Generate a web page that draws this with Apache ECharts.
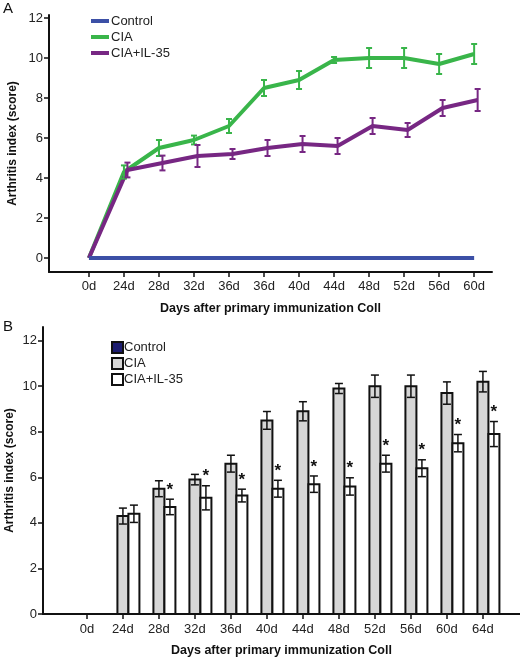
<!DOCTYPE html>
<html><head><meta charset="utf-8">
<script src="https://cdn.jsdelivr.net/npm/echarts@6/dist/echarts.min.js"></script>
<style>html,body{margin:0;padding:0;background:#fff}#c{width:520px;height:658px}</style>
</head><body><div id="c"></div>
<script>
// ---- Panel A data ----
const topCategories = ['0d','24d','28d','32d','36d','36d','40d','44d','48d','52d','56d','60d'];
const topControl = [0,0,0,0,0,0,0,0,0,0,0,0];
const topCIA = [0,4.3,5.5,5.9,6.6,8.5,8.9,9.9,10.0,10.0,9.7,10.2];
const topCIAErr = [0,0.33,0.4,0.22,0.35,0.4,0.45,0.15,0.5,0.5,0.5,0.5];
const topIL35 = [0,4.4,4.75,5.1,5.2,5.5,5.7,5.6,6.6,6.4,7.5,7.9];
const topIL35Err = [0,0.37,0.37,0.55,0.25,0.4,0.4,0.4,0.4,0.35,0.4,0.55];
const yTicks = [0,2,4,6,8,10,12];

// ---- Panel B data ----
const barCategories = ['0d','24d','28d','32d','36d','40d','44d','48d','52d','56d','60d','64d'];
const barControl = [0,0,0,0,0,0,0,0,0,0,0,0];
const barCIA = [0,4.3,5.5,5.9,6.6,8.5,8.9,9.9,10.0,10.0,9.7,10.2];
const barCIAErr = [0,0.35,0.35,0.23,0.37,0.39,0.42,0.22,0.49,0.49,0.49,0.45];
const barIL35 = [0,4.4,4.7,5.1,5.2,5.5,5.7,5.6,6.6,6.4,7.5,7.9];
const barIL35Err = [0,0.38,0.34,0.53,0.28,0.37,0.36,0.38,0.37,0.37,0.38,0.55];
const barSig = [0,0,1,1,1,1,1,1,1,1,1,1];

const FONT = '"Liberation Sans", Arial, sans-serif';
const C_BLUE = '#3c50a6', C_GREEN = '#39b54a', C_PURPLE = '#772783';
const C_NAVY = '#1d1d70', C_GRAY = '#d6d6d6';
const PURPLE_SHIFT = 0.1;
const BAR_W = 11;

const idx = a => a.map((_, i) => i);
const pts = (vals, shift) => vals.map((v, i) => [i + (shift || 0), v]);

function errSeries(gi, vals, errs, color, pxShift, capW, lw, sig, shift) {
  return {
    type: 'custom', xAxisIndex: gi, yAxisIndex: gi, silent: true, z: 5,
    data: vals.map((v, i) => [i + (shift || 0), v, errs[i], sig ? sig[i] : 0]),
    renderItem(params, api) {
      const x = api.value(0), v = api.value(1), e = api.value(2);
      if (!e) return null;
      const hi = api.coord([x, v + e]), lo = api.coord([x, v - e]);
      const cx = hi[0] + pxShift;
      const st = { stroke: color, lineWidth: lw };
      const ch = [
        { type: 'line', shape: { x1: cx, y1: hi[1], x2: cx, y2: lo[1] }, style: st },
        { type: 'line', shape: { x1: cx - capW / 2, y1: hi[1], x2: cx + capW / 2, y2: hi[1] }, style: st },
        { type: 'line', shape: { x1: cx - capW / 2, y1: lo[1], x2: cx + capW / 2, y2: lo[1] }, style: st }
      ];
      if (api.value(3)) ch.push({ type: 'text', style: { text: '*', x: cx, y: hi[1] - 9, align: 'center', verticalAlign: 'middle', font: 'bold 17px ' + FONT, fill: '#111' } });
      return { type: 'group', children: ch };
    }
  };
}

function barSeries(name, vals, fill, pxShift) {
  return {
    type: 'custom', name, xAxisIndex: 1, yAxisIndex: 1, silent: true, z: 3,
    itemStyle: { color: fill, borderColor: '#111', borderWidth: 2 },
    data: pts(vals),
    renderItem(params, api) {
      const v = api.value(1);
      if (!v) return null;
      const top = api.coord([api.value(0), v]);
      const base = api.coord([api.value(0), 0]);
      const cx = top[0] + pxShift;
      return {
        type: 'rect',
        shape: { x: cx - BAR_W / 2, y: top[1], width: BAR_W, height: base[1] - top[1] },
        style: { fill, stroke: '#111', lineWidth: 2 }
      };
    }
  };
}

function xAxisDef(gi, cats, min, max, margin, nameGap) {
  return {
    type: 'value', gridIndex: gi, min, max,
    axisLine: { show: true, onZero: false, lineStyle: { color: '#111', width: 2 } },
    axisTick: { show: true, customValues: idx(cats), length: 5, lineStyle: { color: '#111', width: 1.5 } },
    axisLabel: { customValues: idx(cats), formatter: v => cats[Math.round(v)], color: '#222', fontSize: 13, fontFamily: FONT, margin },
    splitLine: { show: false },
    name: 'Days after primary immunization Coll', nameLocation: 'middle', nameGap,
    nameTextStyle: { color: '#111', fontSize: 12.5, fontWeight: 'bold', fontFamily: FONT }
  };
}
function yAxisDef(gi, min, max, nameGap) {
  return {
    type: 'value', gridIndex: gi, min, max,
    axisLine: { show: true, onZero: false, lineStyle: { color: '#111', width: 2 } },
    axisTick: { show: true, customValues: yTicks, length: 5, lineStyle: { color: '#111', width: 1.5 } },
    axisLabel: { customValues: yTicks, color: '#222', fontSize: 13, fontFamily: FONT, margin: 6 },
    splitLine: { show: false },
    name: 'Arthritis index (score)', nameLocation: 'middle', nameGap, nameMoveOverlap: false,
    nameTextStyle: { color: '#111', fontSize: 12, fontWeight: 'bold', fontFamily: FONT }
  };
}

const lineCommon = { type: 'line', xAxisIndex: 0, yAxisIndex: 0, showSymbol: false, symbol: 'none', silent: true };

const option = {
  animation: false,
  backgroundColor: '#fff',
  grid: [
    { left: 49, top: 15, width: 443, height: 257, containLabel: false, outerBoundsMode: 'none' },
    { left: 43, top: 327, width: 477, height: 287, containLabel: false, outerBoundsMode: 'none' }
  ],
  xAxis: [
    xAxisDef(0, topCategories, -1.14, 11.51, 8, 30),
    xAxisDef(1, barCategories, -1.22, 12.03, 9, 30)
  ],
  yAxis: [
    yAxisDef(0, -0.7, 12.15, 30),
    yAxisDef(1, 0, 12.6, 27)
  ],
  legend: [
    {
      left: 91, top: 14, padding: 0, orient: 'vertical', itemWidth: 18, itemHeight: 4, itemGap: 2, selectedMode: false,
      textStyle: { fontSize: 13, fontFamily: FONT, color: '#222', lineHeight: 14, padding: [0, 0, 0, -3] },
      data: [
        { name: 'Control', icon: 'rect', itemStyle: { color: C_BLUE, borderWidth: 0 } },
        { name: 'CIA', icon: 'rect', itemStyle: { color: C_GREEN, borderWidth: 0 } },
        { name: 'CIA+IL-35', icon: 'rect', itemStyle: { color: C_PURPLE, borderWidth: 0 } }
      ]
    },
    {
      left: 111, top: 341, padding: 0, orient: 'vertical', itemWidth: 11, itemHeight: 11, itemGap: 3, selectedMode: false,
      textStyle: { fontSize: 13, fontFamily: FONT, color: '#222', lineHeight: 11, padding: [0, 0, 0, -4] },
      data: [
        { name: 'Control', icon: 'rect', itemStyle: { color: C_NAVY, borderColor: '#111', borderWidth: 2 } },
        { name: 'CIA', icon: 'rect', itemStyle: { color: C_GRAY, borderColor: '#111', borderWidth: 2 } },
        { name: 'CIA+IL-35', icon: 'rect', itemStyle: { color: '#ffffff', borderColor: '#111', borderWidth: 2 } }
      ]
    }
  ],
  graphic: [
    { type: 'text', left: 3, top: 1, style: { text: 'A', font: '15px ' + FONT, fill: '#111' } },
    { type: 'text', left: 3, top: 319, style: { text: 'B', font: '15px ' + FONT, fill: '#111' } }
  ],
  series: [
    Object.assign({}, lineCommon, { name: 'CIA', data: pts(topCIA), lineStyle: { color: C_GREEN, width: 4 }, itemStyle: { color: C_GREEN }, z: 2 }),
    Object.assign({}, lineCommon, { name: 'CIA+IL-35', data: pts(topIL35, PURPLE_SHIFT).map((p, i) => i === 0 ? [0, p[1]] : p), lineStyle: { color: C_PURPLE, width: 4 }, itemStyle: { color: C_PURPLE }, z: 3 }),
    Object.assign({}, lineCommon, { name: 'Control', data: pts(topControl), lineStyle: { color: C_BLUE, width: 4 }, itemStyle: { color: C_BLUE }, z: 4 }),
    errSeries(0, topCIA, topCIAErr, C_GREEN, 0, 6, 2, null, 0),
    errSeries(0, topIL35, topIL35Err, C_PURPLE, 0, 6, 2, null, PURPLE_SHIFT),

    barSeries('Control', barControl, C_NAVY, -BAR_W),
    barSeries('CIA', barCIA, C_GRAY, 0),
    barSeries('CIA+IL-35', barIL35, '#ffffff', BAR_W),
    errSeries(1, barCIA, barCIAErr, '#111', 0, 8, 1.5, null, 0),
    errSeries(1, barIL35, barIL35Err, '#111', BAR_W, 8, 1.5, barSig, 0)
  ]
};

const chart = echarts.init(document.getElementById('c'), null, { renderer: 'canvas' });
chart.setOption(option);
</script>
</body></html>
